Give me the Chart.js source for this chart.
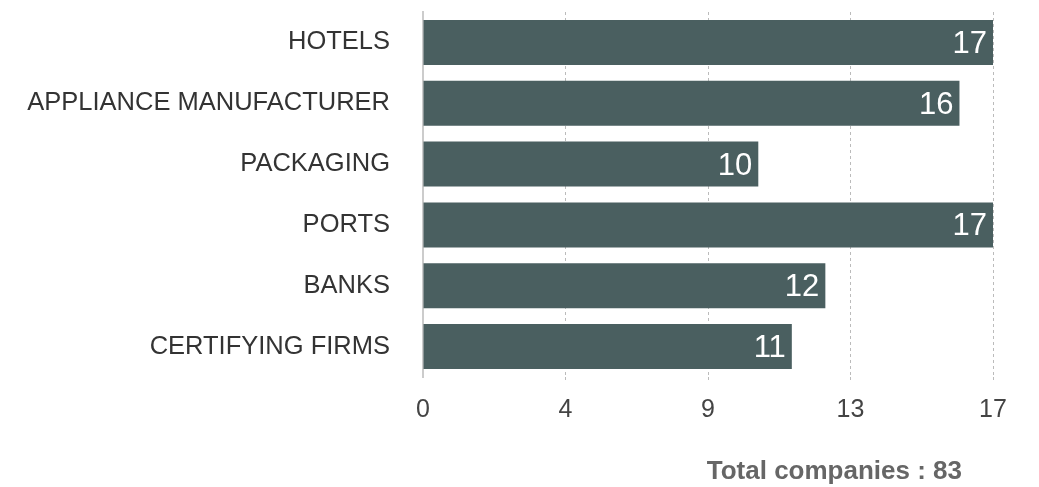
<!DOCTYPE html>
<html>
<head>
<meta charset="utf-8">
<script src="https://cdn.jsdelivr.net/npm/chart.js@4"></script>
<style>
  html, body { margin: 0; padding: 0; background: #fff; }
  #wrap { position: relative; width: 1039px; height: 487px; }
  #total {
    position: absolute; right: 77px; top: 455px;
    font: bold 26px "Liberation Sans", Arial, sans-serif; color: #666;
  }
</style>
</head>
<body>
<div id="wrap">
  <canvas id="bar-chart" width="1039" height="487"></canvas>
  <div id="total">Total companies : 83</div>
</div>
<script>
var categories = ["HOTELS", "APPLIANCE MANUFACTURER", "PACKAGING", "PORTS", "BANKS", "CERTIFYING FIRMS"];
var companies = [17, 16, 10, 17, 12, 11];
var tickValues = [0, 4.25, 8.5, 12.75, 17];
var tickLabels = ["0", "4", "9", "13", "17"];

// white value labels inside the end of each bar
var valueLabels = {
  id: 'valueLabels',
  afterDatasetsDraw: function(chart) {
    var ctx = chart.ctx;
    var meta = chart.getDatasetMeta(0);
    ctx.save();
    ctx.font = '31px "Liberation Sans", Arial, sans-serif';
    ctx.fillStyle = '#fff';
    ctx.textAlign = 'right';
    ctx.textBaseline = 'middle';
    meta.data.forEach(function(bar, i) {
      ctx.fillText(companies[i], bar.x - 6, bar.y + 2);
    });
    ctx.restore();
  }
};

new Chart(document.getElementById("bar-chart"), {
    type: 'bar',
    data: {
      labels: categories,
      datasets: [
        {
          label: "companies",
          backgroundColor: "#4a5f60",
          data: companies,
          barPercentage: 0.74,
          categoryPercentage: 1
        }
      ]
    },
    plugins: [valueLabels],
    options: {
      indexAxis: 'y',
      responsive: false,
      animation: false,
      layout: { padding: { top: 12, right: 46, bottom: 60, left: 0 } },
      plugins: {
        legend: { display: false },
        tooltip: { enabled: false }
      },
      scales: {
        x: {
          min: 0,
          max: 17,
          afterBuildTicks: function(s) {
            s.ticks = tickValues.map(function(v) { return { value: v }; });
          },
          afterFit: function(s) { s.height = 50; },
          border: { display: false, dash: [3, 3] },
          grid: {
            color: function(c) { return c.index === 0 ? 'rgba(0,0,0,0)' : '#bbb'; },
            tickLength: 3
          },
          ticks: {
            padding: 15,
            color: '#444',
            maxRotation: 0,
            font: { family: '"Liberation Sans", Arial, sans-serif', size: 25 },
            callback: function(v, i) { return tickLabels[i]; }
          }
        },
        y: {
          afterFit: function(s) { s.width = 423; s.paddingTop = 0; s.paddingBottom = 0; },
          border: { display: true, color: '#ccc', width: 2 },
          grid: { display: false, drawTicks: false },
          ticks: {
            padding: 33,
            color: '#333',
            font: { family: '"Liberation Sans", Arial, sans-serif', size: 25.5 }
          }
        }
      }
    }
});
</script>
</body>
</html>
